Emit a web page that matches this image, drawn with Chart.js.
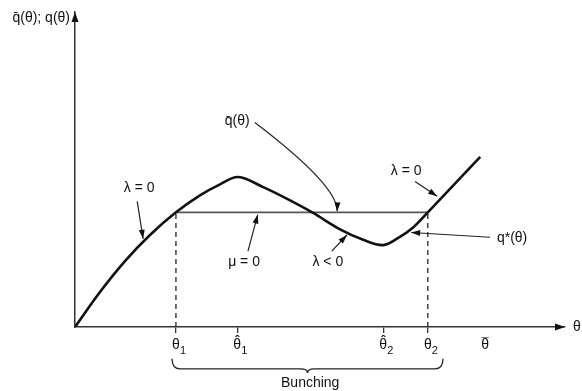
<!DOCTYPE html>
<html>
<head>
<meta charset="utf-8">
<script src="https://cdn.jsdelivr.net/npm/chart.js@4"></script>
<style>
  html, body { margin: 0; padding: 0; background: #fff; }
</style>
</head>
<body>
<canvas id="grafica" width="582" height="391"></canvas>
<script>
// curva q(θ)
const theta1 = 2.06;
const theta2 = 7.20;
const bunchLevel = 3.64;
const thetaVals = [0, 0.51, 1.02, 1.53, theta1, 2.55, 2.96, 3.33, 3.84, 4.39, 4.86, 5.41, 5.88, 6.29, 6.59, 6.90, theta2, 7.73, 8.27];
const qVals = [0, 1.11, 2.09, 2.92, bunchLevel, 4.18, 4.53, 4.76, 4.44, 4.02, 3.62, 3.10, 2.77, 2.60, 2.82, 3.16, bunchLevel, 4.51, 5.40];
const tickThetas = [theta1, 3.31, 6.29, theta2, 8.37];
const tickBase = ["θ", "θ", "θ", "θ", "θ"];
const tickSub = ["1", "1", "2", "2", ""];
const tickAccent = ["", "ˆ", "ˆ", "", "¯"];

const curva = thetaVals.map((t, i) => ({ x: t, y: qVals[i] }));
const FONT = '"Liberation Sans", "DejaVu Sans", sans-serif';

function flecha(ctx, x0, y0, x1, y1, cx, cy) {
    ctx.beginPath();
    ctx.moveTo(x0, y0);
    if (cx !== undefined) ctx.quadraticCurveTo(cx, cy, x1, y1);
    else ctx.lineTo(x1, y1);
    ctx.stroke();
    const fx = cx !== undefined ? cx : x0, fy = cx !== undefined ? cy : y0;
    const a = Math.atan2(y1 - fy, x1 - fx);
    ctx.beginPath();
    ctx.moveTo(x1, y1);
    ctx.lineTo(x1 - 9 * Math.cos(a) + 3 * Math.sin(a), y1 - 9 * Math.sin(a) - 3 * Math.cos(a));
    ctx.lineTo(x1 - 9 * Math.cos(a) - 3 * Math.sin(a), y1 - 9 * Math.sin(a) + 3 * Math.cos(a));
    ctx.closePath();
    ctx.fill();
}

const marcas = {
    id: "marcas",
    afterDraw(chart) {
        const { ctx, scales: { x, y } } = chart;
        const px = v => x.getPixelForValue(v), py = v => y.getPixelForValue(v);
        ctx.save();
        ctx.fillStyle = "#111";
        ctx.strokeStyle = "#222";

        // puntas de los ejes
        const ox = px(0), oy = py(0);
        ctx.beginPath();
        ctx.moveTo(ox, py(10));
        ctx.lineTo(ox - 3.5, py(10) + 10);
        ctx.lineTo(ox + 3.5, py(10) + 10);
        ctx.closePath();
        ctx.fill();
        ctx.beginPath();
        ctx.moveTo(px(10), oy);
        ctx.lineTo(px(10) - 10, oy - 3.5);
        ctx.lineTo(px(10) - 10, oy + 3.5);
        ctx.closePath();
        ctx.fill();

        // subindices y acentos de las marcas del eje
        const labelY = x.top + 6 + 4 + 8;
        ctx.textBaseline = "middle";
        ctx.textAlign = "left";
        ctx.font = "11px " + FONT;
        tickThetas.forEach((t, i) => {
            if (tickSub[i]) ctx.fillText(tickSub[i], px(t) + 4, labelY + 6);
        });
        ctx.textAlign = "center";
        ctx.font = "bold 13px " + FONT;
        tickThetas.forEach((t, i) => {
            if (tickAccent[i] === "ˆ") ctx.fillText(tickAccent[i], px(t), labelY - 4);
            else if (tickAccent[i]) ctx.fillText(tickAccent[i], px(t), labelY - 2);
        });

        // textos
        ctx.font = "14px " + FONT;
        ctx.textAlign = "right";
        ctx.fillText("q̄(θ); q(θ)", ox - 5, py(9.8));
        ctx.textAlign = "left";
        ctx.fillText("θ", px(10) + 8, oy);
        ctx.textAlign = "center";
        const notas = [
            ["q̄(θ)", 3.31, 6.52],
            ["λ = 0", 1.31, 4.40],
            ["μ = 0", 3.45, 2.06],
            ["λ < 0", 5.16, 2.06],
            ["λ = 0", 6.76, 4.94],
            ["q*(θ)", 8.92, 2.82],
            ["Bunching", 4.80, -1.78]
        ];
        notas.forEach(n => ctx.fillText(n[0], px(n[1]), py(n[2])));

        // flechas de las notas
        ctx.lineWidth = 1.2;
        flecha(ctx, px(3.67), py(6.49), px(5.35), py(3.67), px(5.37), py(4.48));
        flecha(ctx, px(1.27), py(3.99), px(1.39), py(2.80));
        flecha(ctx, px(3.53), py(2.41), px(3.73), py(3.57));
        flecha(ctx, px(5.24), py(2.41), px(5.55), py(2.92));
        flecha(ctx, px(6.94), py(4.62), px(7.39), py(4.15));
        flecha(ctx, px(8.47), py(2.85), px(6.86), py(3.00));

        // llave de bunching
        const bx1 = px(1.98), bx2 = px(7.51), bm = (bx1 + bx2) / 2;
        const bt = py(-1.01), bb = py(-1.33);
        ctx.lineWidth = 1.3;
        ctx.beginPath();
        ctx.moveTo(bx1, bt);
        ctx.quadraticCurveTo(bx1, bb, bx1 + 8, bb);
        ctx.lineTo(bm - 7, bb);
        ctx.quadraticCurveTo(bm, bb, bm, bb + 4);
        ctx.quadraticCurveTo(bm, bb, bm + 7, bb);
        ctx.lineTo(bx2 - 8, bb);
        ctx.quadraticCurveTo(bx2, bb, bx2, bt);
        ctx.stroke();
        ctx.restore();
    }
};

const ctx = document.getElementById("grafica").getContext("2d");
new Chart(ctx, {
    type: "scatter",
    data: {
        datasets: [
            {
                data: curva,
                showLine: true,
                borderColor: "#111",
                borderWidth: 2.6,
                pointRadius: 0,
                tension: 0.35
            },
            {
                data: [{ x: theta1, y: bunchLevel }, { x: theta2, y: bunchLevel }],
                showLine: true,
                borderColor: "#555",
                borderWidth: 1.6,
                pointRadius: 0
            },
            {
                data: [{ x: theta1, y: 0 }, { x: theta1, y: bunchLevel }],
                showLine: true,
                borderColor: "#333",
                borderWidth: 1.4,
                borderDash: [5, 4],
                pointRadius: 0
            },
            {
                data: [{ x: theta2, y: 0 }, { x: theta2, y: bunchLevel }],
                showLine: true,
                borderColor: "#333",
                borderWidth: 1.4,
                borderDash: [5, 4],
                pointRadius: 0
            }
        ]
    },
    options: {
        responsive: false,
        animation: false,
        layout: { padding: { left: 75, right: 17, top: 12, bottom: 0 } },
        plugins: { legend: { display: false }, tooltip: { enabled: false } },
        scales: {
            x: {
                type: "linear",
                min: 0,
                max: 10,
                afterBuildTicks: s => { s.ticks = tickThetas.map(v => ({ value: v })); },
                afterFit: s => { s.height = 64; },
                ticks: {
                    autoSkip: false,
                    maxRotation: 0,
                    padding: 4,
                    color: "#111",
                    font: { size: 14, family: FONT },
                    callback: (v, i) => tickBase[i]
                },
                grid: {
                    drawOnChartArea: false,
                    tickLength: 6,
                    lineWidth: 1.3,
                    color: c => c.index === 4 ? "rgba(0,0,0,0)" : "#333"
                },
                border: { display: true, color: "#333", width: 1.5 }
            },
            y: {
                type: "linear",
                min: 0,
                max: 10,
                afterFit: s => { s.width = 0; },
                ticks: { display: false },
                grid: { display: false },
                border: { display: true, color: "#333", width: 1.5 }
            }
        }
    },
    plugins: [marcas]
});
</script>
</body>
</html>
